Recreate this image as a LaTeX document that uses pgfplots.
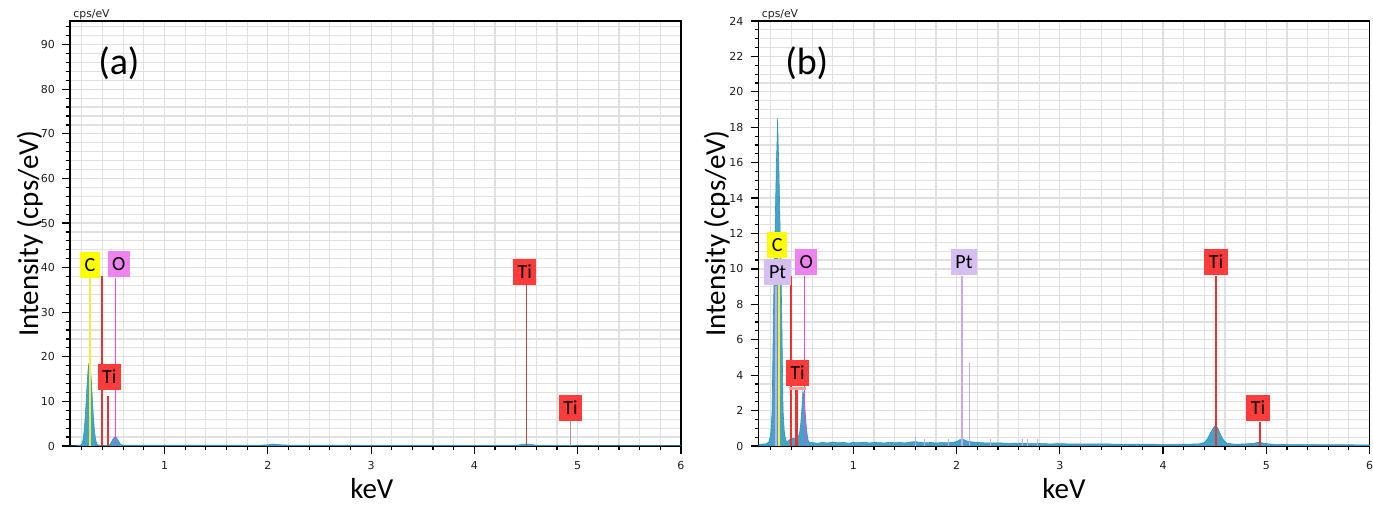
\documentclass[border=0pt]{standalone}
\usepackage{pgfplots}
\pgfplotsset{compat=1.18}
\usepackage{fontspec}
\setmainfont{DejaVu Sans}
\newfontfamily\carl{Carlito}
\newfontfamily\tickf{DejaVu Sans}
\definecolor{spec}{HTML}{44A4C8}
\definecolor{specd}{HTML}{2F93BA}
\definecolor{cY}{HTML}{FFFF00}
\definecolor{cYl}{HTML}{F2EC3C}
\definecolor{cO}{HTML}{EE82EE}
\definecolor{cOl}{HTML}{F040F0}
\definecolor{cTi}{HTML}{FF3B3B}
\definecolor{cTil}{HTML}{F03030}
\definecolor{cTid}{HTML}{C04444}
\definecolor{cTig}{HTML}{B89090}
\definecolor{cPt}{HTML}{D5BEF2}
\definecolor{cPtl}{HTML}{C8A8EE}
\definecolor{tk}{HTML}{1E1E1E}
\tikzset{lab/.style={fill=#1, inner xsep=2.3pt, inner ysep=0pt, minimum height=13pt,
  text height=6.4pt, text depth=0pt, font=\carl\fontsize{10}{10}\selectfont, anchor=center}}
\pgfplotsset{
 edsstyle/.style={
  scale only axis, width=305.5pt, height=212.5pt,
  clip mode=individual,
  axis line style={black, line width=0.7pt},
  tick align=outside, tick pos=left,
  major tick length=4pt, minor tick length=2pt,
  tick style={black, line width=0.6pt},
  grid=both,
  major grid style={draw=black!13, line width=0.6pt},
  minor grid style={draw=black!12, line width=0.6pt},
  xtick={1,2,3,4,5,6},
  minor xtick={0.2,0.4,0.6,0.8,1.2,1.4,1.6,1.8,2.2,2.4,2.6,2.8,3.2,3.4,3.6,3.8,4.2,4.4,4.6,4.8,5.2,5.4,5.6,5.8},
  xmax=6, ymin=0,
  xticklabel={\tickf\fontsize{5.5}{6}\selectfont\pgfmathprintnumber[assume math mode=true]{\tick}},
  yticklabel={\tickf\fontsize{5.5}{6}\selectfont\pgfmathprintnumber[assume math mode=true]{\tick}},
  tick label style={text=tk},
  xlabel={\carl keV}, ylabel={\carl Intensity (cps/eV)},
  label style={font=\fontsize{14.5}{15}\selectfont},
 }}
\begin{document}
\begin{tikzpicture}
% ---------------- (a) ----------------
\begin{axis}[edsstyle, at={(0,0)}, anchor=south west,
  xmin=0.085, ymax=95.3,
  ytick={0,10,...,90}, minor ytick={2,4,...,94},
  xlabel style={at={(axis description cs:0.494,-0.099)}, anchor=center},
  ylabel style={at={(axis description cs:-0.0655,0.5)}, anchor=center}]
\addplot[fill=spec, draw=specd, line width=0.3pt] coordinates {
(0.085,0) (0.15,0.05) (0.18,0.15) (0.192,0.25) (0.202,0.6) (0.212,1.5) (0.222,3.4)
(0.232,6.3) (0.242,10.3) (0.252,14.4) (0.262,17.6) (0.272,18.9) (0.282,17.6)
(0.292,14.4) (0.302,10.3) (0.312,6.3) (0.322,3.4) (0.332,1.5) (0.342,0.6)
(0.352,0.25) (0.37,0.15) (0.40,0.15) (0.453,0.15) (0.463,0.2) (0.473,0.4) (0.483,0.8)
(0.493,1.2) (0.503,1.6) (0.513,1.9) (0.523,2.0) (0.533,1.9) (0.543,1.6) (0.553,1.2)
(0.563,0.8) (0.573,0.4) (0.583,0.25) (0.6,0.2) (1.0,0.2) (1.5,0.18) (1.9,0.18)
(2.0,0.25) (2.05,0.45) (2.1,0.3) (2.2,0.2) (3.0,0.15) (4.0,0.12) (4.4,0.13) (4.45,0.3)
(4.5,0.45) (4.55,0.35) (4.6,0.15) (4.88,0.1) (4.93,0.15) (4.97,0.1) (5.5,0.07)
(6,0.05)} \closedcycle;
% element lines
\addplot[draw=cYl, line width=0.8pt] coordinates {(0.277,0) (0.277,37.7)};
\addplot[draw=cTil, line width=0.8pt] coordinates {(0.395,0) (0.395,38.2)};
\addplot[draw=cTil, line width=0.8pt] coordinates {(0.452,0) (0.452,11.2)};
\addplot[draw=cOl, line width=0.8pt] coordinates {(0.525,0) (0.525,37.7)};
\addplot[draw=cTid, line width=0.6pt] coordinates {(4.507,0) (4.507,36.0)};
\addplot[draw=cTig, line width=0.6pt] coordinates {(4.93,0) (4.93,5.5)};
% labels
\node[lab=cY] at (axis cs:0.278,40.6) {C};
\node[lab=cO] at (axis cs:0.558,40.8) {O};
\node[lab=cTi] at (axis cs:0.466,15.5) {Ti};
\node[lab=cTi] at (axis cs:4.487,39.0) {Ti};
\node[lab=cTi] at (axis cs:4.93,8.5) {Ti};
\node[font=\carl\fontsize{19}{19}\selectfont] at (axis description cs:0.080,0.901) {(a)};
\node[font=\fontsize{5.4}{6}\selectfont, text=tk, anchor=base west, inner sep=0pt] at (axis description cs:0.005,1.008) {cps/eV};
\end{axis}
% ---------------- (b) ----------------
\begin{axis}[edsstyle, at={(344.25pt,0)}, anchor=south west,
  xmin=0.08, ymax=24,
  ytick={0,2,...,24}, minor ytick={0,0.5,...,24},
  xlabel style={at={(axis description cs:0.500,-0.099)}, anchor=center},
  ylabel style={at={(axis description cs:-0.068,0.5)}, anchor=center}]
\addplot[fill=spec, draw=specd, line width=0.3pt] coordinates {
(0.08,0.05) (0.1,0.1) (0.15,0.12) (0.175,0.2) (0.185,0.3) (0.2,0.8) (0.212,2.0)
(0.225,7.5) (0.2325,10.0) (0.245,13.5) (0.2535,16) (0.259,17) (0.265,18.5) (0.271,17)
(0.2765,16) (0.285,13.5) (0.2975,10) (0.305,7.5) (0.318,2.0) (0.33,0.8) (0.345,0.3)
(0.36,0.25) (0.38,0.35) (0.40,0.4) (0.42,0.45) (0.44,0.4) (0.46,0.45) (0.47,0.6)
(0.48,0.8) (0.49,1.3) (0.50,2.1) (0.51,3.1) (0.52,2.8) (0.53,2.1) (0.54,1.3)
(0.55,0.7) (0.56,0.35) (0.57,0.22) (0.6,0.2) (0.65,0.15) (0.7,0.2) (0.75,0.17)
(0.8,0.22) (0.85,0.18) (0.9,0.2) (0.95,0.16) (1.0,0.2) (1.05,0.18) (1.1,0.22)
(1.15,0.17) (1.2,0.2) (1.25,0.19) (1.3,0.17) (1.35,0.21) (1.4,0.18) (1.45,0.2)
(1.5,0.17) (1.55,0.22) (1.6,0.25) (1.65,0.2) (1.7,0.18) (1.75,0.2) (1.8,0.17)
(1.85,0.19) (1.9,0.18) (1.95,0.2) (2.0,0.25) (2.03,0.35) (2.06,0.38) (2.09,0.3)
(2.12,0.25) (2.2,0.2) (2.3,0.17) (2.4,0.18) (2.5,0.15) (2.6,0.16) (2.7,0.13)
(2.8,0.14) (2.9,0.12) (3.0,0.13) (3.2,0.11) (3.4,0.12) (3.6,0.1) (3.8,0.11)
(4.0,0.09) (4.2,0.1) (4.35,0.12) (4.40,0.2) (4.43,0.4) (4.46,0.75) (4.49,1.05)
(4.51,1.17) (4.53,1.0) (4.56,0.6) (4.59,0.3) (4.62,0.15) (4.7,0.1) (4.8,0.12)
(4.88,0.15) (4.93,0.22) (4.98,0.15) (5.05,0.1) (5.2,0.08) (5.5,0.07) (5.8,0.07)
(6,0.06)} \closedcycle;
% minor Pt lines
\addplot[draw=cPtl, line width=0.6pt] coordinates {(1.598,0) (1.598,0.5)};
\addplot[draw=cPtl, line width=0.6pt] coordinates {(1.685,0) (1.685,0.4)};
\addplot[draw=cPtl, line width=0.6pt] coordinates {(1.92,0) (1.92,0.4)};
\addplot[draw=cPtl, line width=0.6pt] coordinates {(2.33,0) (2.33,0.4)};
\addplot[draw=cPtl, line width=0.6pt] coordinates {(2.64,0) (2.64,0.4)};
\addplot[draw=cPtl, line width=0.6pt] coordinates {(2.69,0) (2.69,0.4)};
\addplot[draw=cPtl, line width=0.6pt] coordinates {(2.78,0) (2.78,0.4)};
% element lines
\addplot[draw=cPtl, line width=0.8pt] coordinates {(0.25,0) (0.25,9.06)};
\addplot[draw=cYl, line width=0.8pt] coordinates {(0.277,0) (0.277,10.6)};
\addplot[draw=cTil, line width=0.8pt] coordinates {(0.395,0) (0.395,9.6)};
\addplot[draw=cTil, line width=0.8pt] coordinates {(0.445,0) (0.445,3.16)};
\addplot[draw=cTil, line width=0.8pt] coordinates {(0.457,0) (0.457,3.35)};
\addplot[draw=cOl, line width=0.8pt] coordinates {(0.524,0) (0.524,9.62)};
\addplot[draw=cPtl, line width=0.8pt] coordinates {(2.05,0) (2.05,9.62)};
\addplot[draw=cPtl, line width=0.8pt] coordinates {(2.124,0) (2.124,4.7)};
\addplot[draw=cTil, line width=0.8pt] coordinates {(4.513,0) (4.513,9.62)};
\addplot[draw=cTil, line width=0.8pt] coordinates {(4.94,0) (4.94,1.37)};
% labels
\node[lab=cY] at (axis cs:0.262,11.36) {C};
\node[lab=cPt] at (axis cs:0.265,9.81) {Pt};
\node[lab=cO] at (axis cs:0.542,10.37) {O};
\node[fill=cTi!50, inner sep=0pt, minimum width=8.3pt, minimum height=1.8pt] at (axis cs:0.455,3.25) {};
\node[lab=cTi] at (axis cs:0.459,4.1) {Ti};
\node[lab=cPt] at (axis cs:2.07,10.37) {Pt};
\node[lab=cTi] at (axis cs:4.513,10.37) {Ti};
\node[lab=cTi] at (axis cs:4.92,2.13) {Ti};
\node[font=\carl\fontsize{19}{19}\selectfont] at (axis description cs:0.079,0.901) {(b)};
\node[font=\fontsize{5.4}{6}\selectfont, text=tk, anchor=base west, inner sep=0pt] at (axis description cs:0.005,1.008) {cps/eV};
\end{axis}
\pgfresetboundingbox
\useasboundingbox (-35pt,-31.5pt) rectangle (651.5pt,223pt);
\end{tikzpicture}
\end{document}
